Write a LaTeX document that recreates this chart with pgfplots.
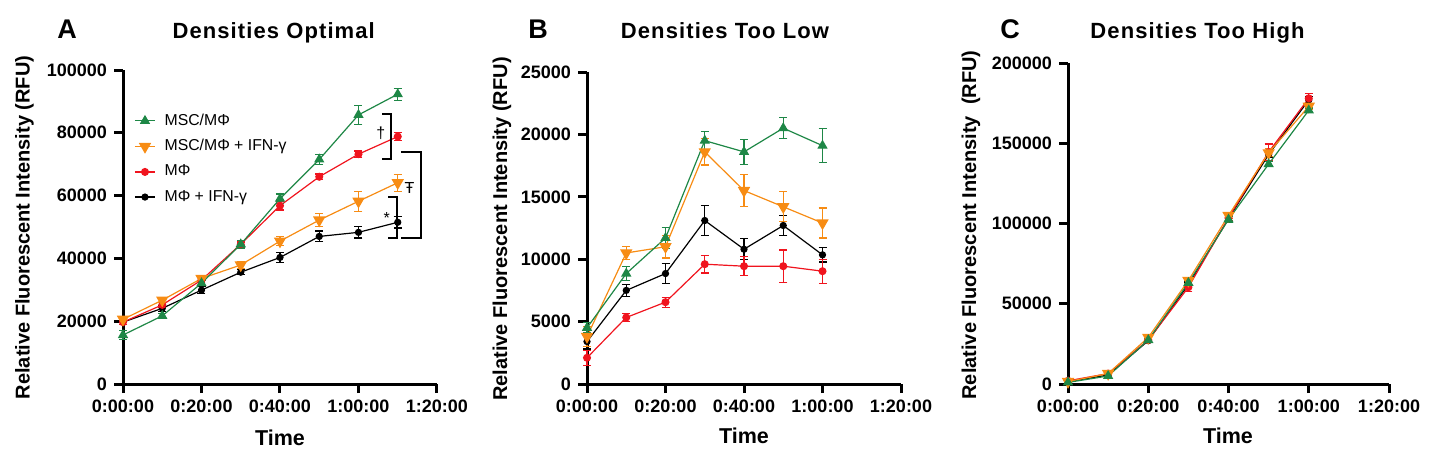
\documentclass[border=0pt]{standalone}
\usepackage{pgfplots}
\pgfplotsset{compat=1.18}
\usepackage{pgfplotstable}
\usepackage{fontspec}
\setmainfont{Liberation Sans}

\definecolor{cgreen}{RGB}{30,135,70}
\definecolor{corange}{RGB}{247,140,20}
\definecolor{cred}{RGB}{240,20,30}

% panel A: densities optimal (t in minutes, value, error)
\pgfplotstableread{
t v e
0 15600 1500
10 21700 700
20 32100 800
30 44500 1200
40 59000 1500
50 71500 1700
60 85700 3000
70 92300 1900
}\Agreen
\pgfplotstableread{
t v e
0 20600 800
10 26700 800
20 33600 800
30 37900 1000
40 45500 1500
50 52200 2000
60 58200 3200
70 64100 2700
}\Aorange
\pgfplotstableread{
t v e
0 19700 700
10 25200 800
20 33100 700
30 44500 700
40 56800 1400
50 66000 900
60 73200 1000
70 78800 1200
}\Ared
\pgfplotstableread{
t v e
0 19700 700
10 24100 1000
20 29900 1200
30 35600 800
40 40300 1700
50 47000 1700
60 48300 1800
70 51500 1800
}\Ablack

% panel B: densities too low
\pgfplotstableread{
t v e
0 4500 400
10 8850 550
20 11700 840
30 19500 730
40 18600 1000
50 20500 830
60 19100 1360
}\Bgreen
\pgfplotstableread{
t v e
0 3800 800
10 10500 500
20 11000 900
30 18600 1050
40 15500 1300
50 14200 1200
60 12900 1200
}\Borange
\pgfplotstableread{
t v e
0 2100 600
10 5330 300
20 6560 400
30 9600 700
40 9440 770
50 9440 1300
60 9040 960
}\Bred
\pgfplotstableread{
t v e
0 3400 600
10 7500 500
20 8850 800
30 13100 1200
40 10800 850
50 12700 800
60 10350 570
}\Bblack

% panel C: densities too high
\pgfplotstableread{
t v e
0 1000 500
10 5000 800
20 27400 1200
30 63000 1500
40 102500 2000
50 137000 1500
60 170500 1500
}\Cgreen
\pgfplotstableread{
t v e
0 1500 500
10 6500 800
20 29000 1500
30 64500 2000
40 105000 2000
50 144000 2500
60 173000 2000
}\Corange
\pgfplotstableread{
t v e
0 2000 500
10 6500 800
20 27400 1000
30 60300 2500
40 103500 2000
50 144500 5000
60 178000 3000
}\Cred
\pgfplotstableread{
t v e
0 1500 500
10 5600 800
20 27000 1200
30 62000 1500
40 103000 2000
50 143000 2000
60 177000 2000
}\Cblack

\pgfplotsset{
  panel/.style={
    scale only axis, anchor=south west,
    axis lines=left, axis line style={line width=1.5pt,-},
    tick align=outside, major tick length=4.5pt,
    tick style={line width=1.5pt,black},
    xmin=0, xmax=80, xtick={0,20,40,60,80},
    xticklabels={0:00:00,0:20:00,0:40:00,1:00:00,1:20:00},
    ymin=0, clip=false, scaled y ticks=false,
    ticklabel style={font=\fontsize{9}{10}\selectfont\bfseries},
  },
  ebar/.style={
    error bars/.cd, y dir=both, y explicit,
    error bar style={line width=0.6pt, solid},
    error mark options={rotate=90, mark size=2pt, line width=0.6pt},
  },
  sgreen/.style={color=cgreen, line width=0.6pt, mark=triangle*, mark size=2.4pt, mark options={solid}},
  sorange/.style={color=corange, line width=0.6pt, mark=triangle*, mark size=3pt, mark options={solid, rotate=180}},
  sred/.style={color=cred, line width=0.6pt, mark=*, mark size=1.7pt, mark options={solid}},
  sblack/.style={color=black, line width=0.6pt, mark=*, mark size=1.5pt, mark options={solid}},
}

\begin{document}
\begin{tikzpicture}
\path[use as bounding box] (0,0) rectangle (716.5pt,233.5pt);

% ---------- A ----------
\begin{axis}[panel, at={(61.5pt,41.5pt)}, width=157pt, height=157pt,
  ymax=100000, ytick={0,20000,40000,60000,80000,100000},
  yticklabels={0,20000,40000,60000,80000,100000},
  reverse legend,
  legend style={draw=none, fill=none, at={(0.035,0.875)}, anchor=north west,
    font=\fontsize{7.9}{9}\selectfont, row sep=1.6pt, inner sep=0pt},
  legend cell align=left,
  legend image code/.code={\draw[mark repeat=2,mark phase=2] plot coordinates {(0pt,0pt) (5pt,0pt) (10pt,0pt)};},
]
\addplot[sblack, ebar] table[x=t, y=v, y error=e] {\Ablack};
\addlegendentry{\hspace{2.5pt}MΦ + IFN-γ}
\addplot[sred, ebar] table[x=t, y=v, y error=e] {\Ared};
\addlegendentry{\hspace{2.5pt}MΦ}
\addplot[sorange, ebar] table[x=t, y=v, y error=e] {\Aorange};
\addlegendentry{\hspace{2.5pt}MSC/MΦ + IFN-γ}
\addplot[sgreen, ebar] table[x=t, y=v, y error=e] {\Agreen};
\addlegendentry{\hspace{2.5pt}MSC/MΦ}
% significance brackets
\draw[line width=1pt] (axis cs:66,86000) -- (axis cs:68.3,86000) -- (axis cs:68.3,71700) -- (axis cs:66,71700);
\node[font=\fontsize{8}{9}\selectfont] at (axis cs:65.7,80000) {†};
\draw[line width=1pt] (axis cs:70.8,73800) -- (axis cs:75.8,73800) -- (axis cs:75.8,46600) -- (axis cs:70.8,46600);
\node[font=\fontsize{8}{9}\selectfont] at (axis cs:73.0,62400) {Ŧ};
\draw[line width=1pt] (axis cs:67.6,59700) -- (axis cs:69.9,59700) -- (axis cs:69.9,46600) -- (axis cs:67.6,46600);
\node[font=\fontsize{8}{9}\selectfont] at (axis cs:67.2,52800) {*};
\end{axis}

% ---------- B ----------
\begin{axis}[panel, at={(293.5pt,41.5pt)}, width=157pt, height=156pt,
  ymax=25000, ytick={0,5000,10000,15000,20000,25000},
  yticklabels={0,5000,10000,15000,20000,25000},
]
\addplot[sblack, ebar] table[x=t, y=v, y error=e] {\Bblack};
\addplot[sred, ebar] table[x=t, y=v, y error=e] {\Bred};
\addplot[sorange, ebar] table[x=t, y=v, y error=e] {\Borange};
\addplot[sgreen, ebar] table[x=t, y=v, y error=e] {\Bgreen};
\end{axis}

% ---------- C ----------
\begin{axis}[panel, at={(534pt,41.5pt)}, width=160.5pt, height=160.5pt,
  ymax=200000, ytick={0,50000,100000,150000,200000},
  yticklabels={0,50000,100000,150000,200000},
]
\addplot[sblack, ebar] table[x=t, y=v, y error=e] {\Cblack};
\addplot[sred, ebar] table[x=t, y=v, y error=e] {\Cred};
\addplot[sorange, ebar] table[x=t, y=v, y error=e] {\Corange};
\addplot[sgreen, ebar] table[x=t, y=v, y error=e] {\Cgreen};
\end{axis}

% titles, panel letters, axis labels
\begin{scope}[every node/.style={inner sep=0pt}]
\node[anchor=base, font=\fontsize{11}{12}\selectfont\bfseries\addfontfeature{LetterSpace=5}] at (136.85pt,214pt) {Densities Optimal};
\node[anchor=base, font=\fontsize{11}{12}\selectfont\bfseries\addfontfeature{LetterSpace=5}] at (362.5pt,214pt) {Densities Too Low};
\node[anchor=base, font=\fontsize{11}{12}\selectfont\bfseries\addfontfeature{LetterSpace=5}] at (598.75pt,214pt) {Densities Too High};
\node[anchor=base west, font=\fontsize{13.5}{14}\selectfont\bfseries] at (28.5pt,214pt) {A};
\node[anchor=base west, font=\fontsize{13.5}{14}\selectfont\bfseries] at (264pt,214pt) {B};
\node[anchor=base west, font=\fontsize{13.5}{14}\selectfont\bfseries] at (500pt,214pt) {C};
\node[anchor=base, rotate=90, font=\fontsize{10}{11}\selectfont\bfseries] at (14.75pt,119.75pt) {Relative Fluorescent Intensity (RFU)};
\node[anchor=base, rotate=90, font=\fontsize{10}{11}\selectfont\bfseries] at (253.5pt,119pt) {Relative Fluorescent Intensity (RFU)};
\node[anchor=base, rotate=90, font=\fontsize{10}{11}\selectfont\bfseries] at (488pt,121pt) {Relative Fluorescent Intensity\ \ (RFU)};
\node[anchor=base, font=\fontsize{10.75}{12}\selectfont\bfseries] at (140pt,11pt) {Time};
\node[anchor=base, font=\fontsize{10.75}{12}\selectfont\bfseries] at (372pt,12pt) {Time};
\node[anchor=base, font=\fontsize{10.75}{12}\selectfont\bfseries] at (614pt,12pt) {Time};
\end{scope}
\end{tikzpicture}
\end{document}
